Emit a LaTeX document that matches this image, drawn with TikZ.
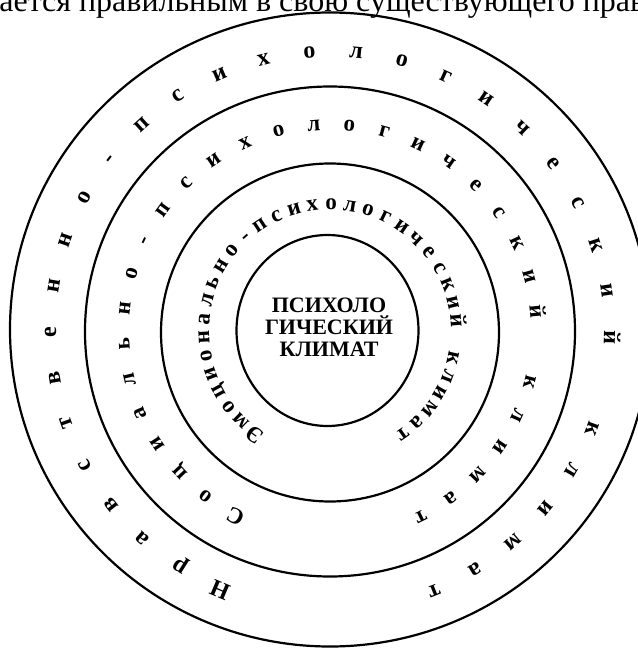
\documentclass[tikz,border=0pt]{standalone}
\usepackage{fontspec}
\setmainfont{Liberation Serif}
\usepackage{tikz}

\begin{document}
\begin{tikzpicture}[
  x=0.5pt, y=0.5pt,
  ring/.style={draw=black, line width=1.1pt},
  ltrA/.style={anchor=base, inner sep=0pt, font=\fontsize{12}{12}\selectfont\bfseries},
  ltrB/.style={ltrA, font=\fontsize{11.5}{12}\selectfont\bfseries},
  ltrC/.style={anchor=base, inner sep=0pt, font=\fontsize{11.5}{12}\selectfont\bfseries},
  core/.style={align=center, inner sep=0pt, font=\fontsize{11}{11}\selectfont\bfseries},
  topline/.style={anchor=base west, inner sep=0pt, font=\fontsize{16}{16}\selectfont},
]
  % ═══ Canvas: the common centre of the rings sits at the origin ═══
  \path[use as bounding box, fill=white] (-330,-318) rectangle (308,331);

  % Cut-off line of the page text above the figure
  \node[topline] (pagetext) at (-331,320) {ается правильным в свою существующего прав};

  % ═══ The four rings ═══
  \draw[ring] (0,1.5) ellipse [x radius=320, y radius=317];
  \draw[ring] (0,-0.5) circle [radius=245];
  \draw[ring] (0,-1.5) circle [radius=169];
  \draw[ring] (-2.5,0.5) ellipse [x radius=91, y radius=95.5];

  % ═══ Outer ring: letters spaced evenly, clockwise ═══
  \foreach \ch [count=\i from 0] in {Н,р,а,в,с,т,в,е,н,н,о,-,п,с,и,х,о,л,о,г,и,ч,е,с,к,и,й}{
    \pgfmathsetmacro{\ang}{247-9.55*\i}
    \pgfmathsetmacro{\rot}{\ang-90}
    \node[ltrA, rotate=\rot] (outer\i) at (\ang:274) {\ch};
  }
  \foreach \ch [count=\i from 28] in {к,л,и,м,а,т}{
    \pgfmathsetmacro{\ang}{247-9.55*\i}
    \pgfmathsetmacro{\rot}{\ang-90}
    \node[ltrA, rotate=\rot] (outer\i) at (\ang:274) {\ch};
  }

  % ═══ Second ring ═══
  \foreach \ch [count=\i from 0] in {С,о,ц,и,а,л,ь,н,о,-,п,с,и,х,о,л,о,г,и,ч,е,с,к,и,й}{
    \pgfmathsetmacro{\ang}{243-9.9*\i}
    \pgfmathsetmacro{\rot}{\ang-90}
    \node[ltrB, rotate=\rot] (social\i) at (\ang:201) {\ch};
  }
  \foreach \ch [count=\i from 26] in {к,л,и,м,а,т}{
    \pgfmathsetmacro{\ang}{243-9.9*\i}
    \pgfmathsetmacro{\rot}{\ang-90}
    \node[ltrB, rotate=\rot] (social\i) at (\ang:201) {\ch};
  }

  % ═══ Third ring: tighter, heavier letters ═══
  \foreach \ch [count=\i from 0] in {Э,м,о,ц,и,о,н,а,л,ь,н,о,-,п,с,и,х,о,л,о,г,и,ч,е,с,к,и,й}{
    \pgfmathsetmacro{\ang}{234-8.5*\i}
    \pgfmathsetmacro{\rot}{\ang-90}
    \node[ltrC, rotate=\rot] (emo\i) at (\ang:121) {\ch};
  }
  \foreach \ch [count=\i from 29] in {к,л,и,м,а,т}{
    \pgfmathsetmacro{\ang}{234-8.5*\i}
    \pgfmathsetmacro{\rot}{\ang-90}
    \node[ltrC, rotate=\rot] (emo\i) at (\ang:121) {\ch};
  }

  % ═══ Centre ═══
  \node[core] (climate) at (-1,4) {ПСИХОЛО\\ГИЧЕСКИЙ\\КЛИМАТ};
\end{tikzpicture}
\end{document}
